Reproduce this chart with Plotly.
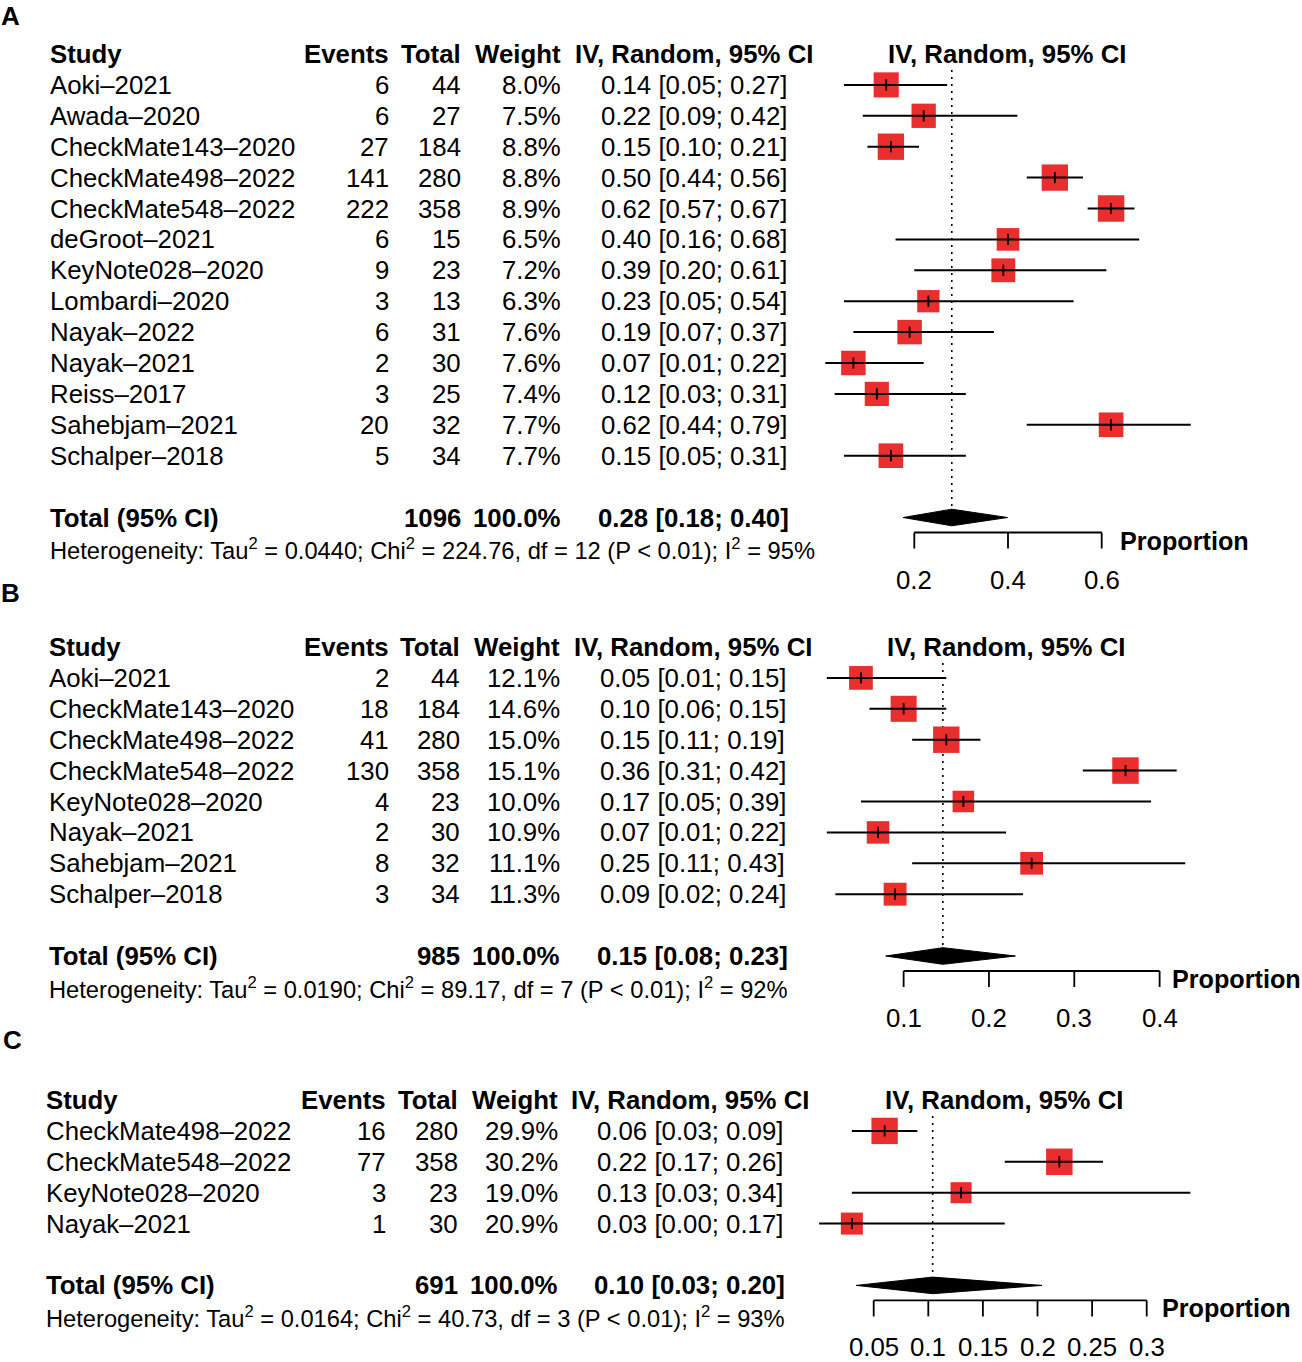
import numpy as np
import plotly.graph_objects as go

W, H = 1302, 1362

# ---------------- Panel A data ----------------
a_study = ["Aoki–2021", "Awada–2020", "CheckMate143–2020", "CheckMate498–2022", "CheckMate548–2022",
           "deGroot–2021", "KeyNote028–2020", "Lombardi–2020", "Nayak–2022", "Nayak–2021",
           "Reiss–2017", "Sahebjam–2021", "Schalper–2018"]
a_events = [6, 6, 27, 141, 222, 6, 9, 3, 6, 2, 3, 20, 5]
a_total = [44, 27, 184, 280, 358, 15, 23, 13, 31, 30, 25, 32, 34]
a_weight = [8.0, 7.5, 8.8, 8.8, 8.9, 6.5, 7.2, 6.3, 7.6, 7.6, 7.4, 7.7, 7.7]
a_est = [0.14, 0.22, 0.15, 0.50, 0.62, 0.40, 0.39, 0.23, 0.19, 0.07, 0.12, 0.62, 0.15]
a_lo = [0.05, 0.09, 0.10, 0.44, 0.57, 0.16, 0.20, 0.05, 0.07, 0.01, 0.03, 0.44, 0.05]
a_hi = [0.27, 0.42, 0.21, 0.56, 0.67, 0.68, 0.61, 0.54, 0.37, 0.22, 0.31, 0.79, 0.31]
a_pooled = [0.280, 0.176, 0.399]
a_het = ["0.0440", "224.76", "12", "95"]
a_ticks = [0.2, 0.4, 0.6]

# ---------------- Panel B data ----------------
b_study = ["Aoki–2021", "CheckMate143–2020", "CheckMate498–2022", "CheckMate548–2022",
           "KeyNote028–2020", "Nayak–2021", "Sahebjam–2021", "Schalper–2018"]
b_events = [2, 18, 41, 130, 4, 2, 8, 3]
b_total = [44, 184, 280, 358, 23, 30, 32, 34]
b_weight = [12.1, 14.6, 15.0, 15.1, 10.0, 10.9, 11.1, 11.3]
b_est = [0.05, 0.10, 0.15, 0.36, 0.17, 0.07, 0.25, 0.09]
b_lo = [0.01, 0.06, 0.11, 0.31, 0.05, 0.01, 0.11, 0.02]
b_hi = [0.15, 0.15, 0.19, 0.42, 0.39, 0.22, 0.43, 0.24]
b_pooled = [0.146, 0.079, 0.231]
b_het = ["0.0190", "89.17", "7", "92"]
b_ticks = [0.1, 0.2, 0.3, 0.4]

# ---------------- Panel C data ----------------
c_study = ["CheckMate498–2022", "CheckMate548–2022", "KeyNote028–2020", "Nayak–2021"]
c_events = [16, 77, 3, 1]
c_total = [280, 358, 23, 30]
c_weight = [29.9, 30.2, 19.0, 20.9]
c_est = [0.06, 0.22, 0.13, 0.03]
c_lo = [0.03, 0.17, 0.03, 0.00]
c_hi = [0.09, 0.26, 0.34, 0.17]
c_pooled = [0.104, 0.034, 0.204]
c_het = ["0.0164", "40.73", "3", "93"]
c_ticks = [0.05, 0.1, 0.15, 0.2, 0.25, 0.3]

FONT = "Liberation Sans, Arial, Helvetica, sans-serif"
FS = 25.8
HET_FS = 23.7
RED = "#EA2E2D"
ROW_H = 30.9
BOX_MAX = 26.5

fig = go.Figure()
annotations = []


def ann(x, y, text, anchor="left", bold=False, size=FS, xref="x", xshift=0):
    if bold:
        text = "<b>" + text + "</b>"
    annotations.append(dict(x=x, y=y, xref=xref, yref="y", text=text, showarrow=False,
                            xanchor=anchor, yanchor="middle", xshift=xshift,
                            font=dict(family=FONT, size=size, color="black"),
                            borderpad=0))


panels = [
    dict(letter="A", letter_xy=(10, 16), head_y=54, xoff=49, ev_r=390, tot_r=462, w_r=562, ci_c=693.5,
         fh_c=1007, zero=820.6, k=468.5, axis="x2", prop_shift=17,
         study=a_study, events=a_events, total=a_total, weight=a_weight,
         est=a_est, lo=a_lo, hi=a_hi, pooled=a_pooled, het=a_het, ticks=a_ticks),
    dict(letter="B", letter_xy=(10, 593), head_y=647, xoff=48, ev_r=390, tot_r=461, w_r=561, ci_c=692.5,
         fh_c=1006, zero=818.3, k=853.3, axis="x3", prop_shift=11,
         study=b_study, events=b_events, total=b_total, weight=b_weight,
         est=b_est, lo=b_lo, hi=b_hi, pooled=b_pooled, het=b_het, ticks=b_ticks),
    dict(letter="C", letter_xy=(12, 1040), head_y=1100, xoff=45, ev_r=387, tot_r=459, w_r=559, ci_c=689.5,
         fh_c=1004, zero=819.1, k=1092.0, axis="x4", prop_shift=14,
         study=c_study, events=c_events, total=c_total, weight=c_weight,
         est=c_est, lo=c_lo, hi=c_hi, pooled=c_pooled, het=c_het, ticks=c_ticks),
]

layout_axes = {}

for p in panels:
    n = len(p["study"])
    hy = p["head_y"]
    rows_y = [hy + (i + 1) * ROW_H for i in range(n)]
    tot_y = rows_y[-1] + 2 * ROW_H
    het_y = tot_y + ROW_H
    ax = p["axis"]
    yax = "y"

    # Panel letter
    ann(p["letter_xy"][0], p["letter_xy"][1], p["letter"], anchor="center", bold=True, size=26)

    # Headers
    ann(p["xoff"], hy, "Study", "left", True)
    ann(p["ev_r"], hy, "Events", "right", True)
    ann(p["tot_r"], hy, "Total", "right", True)
    ann(p["w_r"], hy, "Weight", "right", True)
    ann(p["ci_c"], hy, "IV, Random, 95% CI", "center", True)
    ann(p["fh_c"], hy, "IV, Random, 95% CI", "center", True)

    # Study rows
    for i in range(n):
        y = rows_y[i]
        ann(p["xoff"], y, p["study"][i], "left")
        ann(p["ev_r"], y, str(p["events"][i]), "right")
        ann(p["tot_r"], y, str(p["total"][i]), "right")
        ann(p["w_r"], y, f"{p['weight'][i]:.1f}%", "right")
        ann(p["ci_c"], y, f"{p['est'][i]:.2f} [{p['lo'][i]:.2f}; {p['hi'][i]:.2f}]", "center")

    # Total row
    pe, pl, ph = p["pooled"]
    ann(p["xoff"], tot_y, "Total (95% CI)", "left", True)
    ann(p["tot_r"], tot_y, str(sum(p["total"])), "right", True)
    ann(p["w_r"], tot_y, "100.0%", "right", True)
    ann(p["ci_c"], tot_y, f"{pe:.2f} [{pl:.2f}; {ph:.2f}]", "center", True)

    t2, c2, df, i2 = p["het"]
    het = (f"Heterogeneity: Tau<sup>2</sup> = {t2}; Chi<sup>2</sup> = {c2}, df = {df} "
           f"(P &lt; 0.01); I<sup>2</sup> = {i2}%")
    ann(p["xoff"], het_y + 1, het, "left", size=HET_FS)

    # Forest axis definition (value -> pixel via axis range)
    z, k = p["zero"], p["k"]
    layout_axes["xaxis" + ax[1:]] = dict(range=[(0 - z) / k, (W - z) / k], domain=[0, 1],
                                         overlaying="x", anchor="y", visible=False,
                                         showgrid=False, zeroline=False, fixedrange=True)

    # Dotted pooled line
    fig.add_trace(go.Scatter(x=[pe, pe], y=[hy + 16, tot_y - 9], mode="lines",
                             line=dict(color="black", width=1.6, dash="2px,5px"),
                             xaxis=ax, yaxis=yax, hoverinfo="skip", showlegend=False))

    # Boxes
    wmax = max(p["weight"])
    sizes = [BOX_MAX * np.sqrt(w / wmax) for w in p["weight"]]
    fig.add_trace(go.Scatter(x=p["est"], y=rows_y, mode="markers",
                             marker=dict(symbol="square", size=sizes, color=RED, opacity=1,
                                         line=dict(width=0)),
                             xaxis=ax, yaxis=yax, hoverinfo="skip", showlegend=False))

    # CI lines
    cx, cy = [], []
    for i in range(n):
        cx += [p["lo"][i], p["hi"][i], None]
        cy += [rows_y[i], rows_y[i], None]
    fig.add_trace(go.Scatter(x=cx, y=cy, mode="lines", line=dict(color="black", width=2),
                             xaxis=ax, yaxis=yax, hoverinfo="skip", showlegend=False))
    # Estimate ticks
    fig.add_trace(go.Scatter(x=p["est"], y=rows_y, mode="markers",
                             marker=dict(symbol="line-ns", size=8, opacity=1,
                                         line=dict(color="black", width=1.8)),
                             xaxis=ax, yaxis=yax, hoverinfo="skip", showlegend=False))

    # Diamond
    dh = 8.3
    fig.add_trace(go.Scatter(x=[pl, pe, ph, pe, pl], y=[tot_y, tot_y - dh, tot_y, tot_y + dh, tot_y],
                             mode="lines", fill="toself", fillcolor="black",
                             line=dict(color="black", width=1),
                             xaxis=ax, yaxis=yax, hoverinfo="skip", showlegend=False))

    # Axis line + ticks
    axis_y = tot_y + 15
    tk = p["ticks"]
    axx = [tk[0], tk[-1], None]
    axy = [axis_y, axis_y, None]
    for t in tk:
        axx += [t, t, None]
        axy += [axis_y, axis_y + 16, None]
    fig.add_trace(go.Scatter(x=axx, y=axy, mode="lines", line=dict(color="black", width=1.8),
                             xaxis=ax, yaxis=yax, hoverinfo="skip", showlegend=False))
    for t in tk:
        ann(t, tot_y + 62, f"{t:g}", "center", xref=ax)
    ann(tk[-1], tot_y + 23, "Proportion", "left", True, size=25.2, xref=ax, xshift=p["prop_shift"])

fig.update_layout(
    width=W, height=H,
    margin=dict(l=0, r=0, t=0, b=0),
    paper_bgcolor="white", plot_bgcolor="white",
    xaxis=dict(range=[0, W], domain=[0, 1], visible=False, showgrid=False, zeroline=False, fixedrange=True),
    yaxis=dict(range=[H, 0], domain=[0, 1], visible=False, showgrid=False, zeroline=False, fixedrange=True),
    annotations=annotations,
    showlegend=False,
    **layout_axes,
)

fig.write_html("out.html", config={"displayModeBar": False},
               post_script="document.body.style.margin='0px';")
